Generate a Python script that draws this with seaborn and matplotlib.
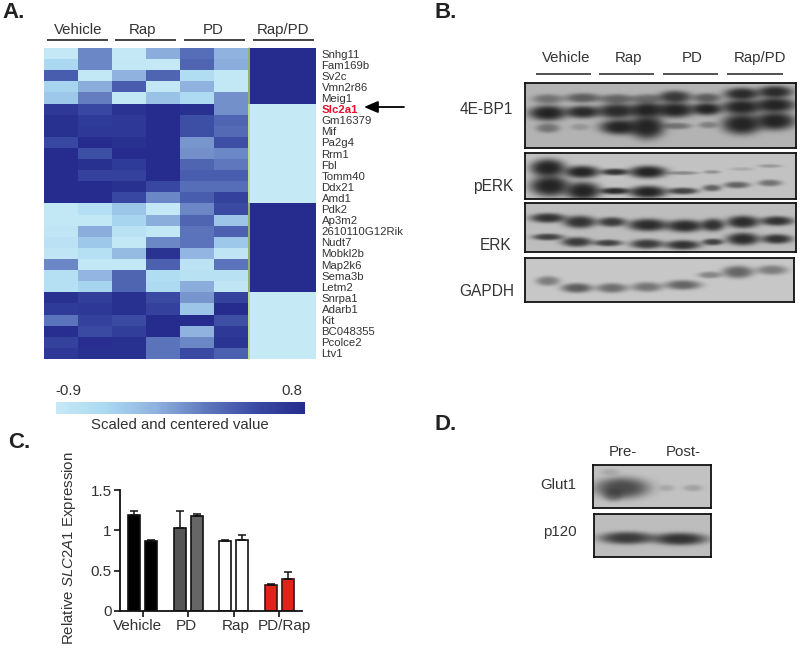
import numpy as np
import pandas as pd
import matplotlib
matplotlib.use("Agg")
import matplotlib.pyplot as plt
from matplotlib.colors import LinearSegmentedColormap
from matplotlib.transforms import ScaledTranslation
import seaborn as sns

# ---- panel A values (scaled and centered)
genes = ["Snhg11", "Fam169b", "Sv2c", "Vmn2r86", "Meig1", "Slc2a1", "Gm16379", "Mif", "Pa2g4", "Rrm1",
         "Fbl", "Tomm40", "Ddx21", "Amd1", "Pdk2", "Ap3m2", "2610110G12Rik", "Nudt7", "Mobkl2b", "Map2k6",
         "Sema3b", "Letm2", "Snrpa1", "Adarb1", "Kit", "BC048355", "Pcolce2", "Ltv1"]
vehicle_1 = [-0.87, -0.56, 0.32, -0.53, -0.42, 0.66, 0.75, 0.75, 0.49, 0.8, 0.8, 0.8, 0.8, 0.8,
             -0.85, -0.85, -0.83, -0.76, -0.83, 0.03, -0.7, -0.7, 0.75, 0.63, 0.15, 0.77, 0.55, 0.66]
vehicle_2 = [0.03, 0.03, -0.85, -0.19, 0.09, 0.49, 0.63, 0.66, 0.8, 0.43, 0.75, 0.55, 0.8, 0.8,
             -0.7, -0.85, -0.19, -0.42, -0.7, -0.85, -0.25, -0.53, 0.6, 0.66, 0.55, 0.46, 0.77, 0.75]
rap_1 = [-0.87, -0.85, -0.22, 0.32, -0.85, 0.72, 0.66, 0.66, 0.75, 0.8, 0.63, 0.55, 0.75, 0.49,
         -0.39, -0.53, -0.73, -0.85, -0.3, -0.85, 0.26, 0.26, 0.75, 0.75, 0.46, 0.6, 0.75, 0.75]
rap_2 = [-0.19, -0.87, 0.26, -0.85, -0.36, 0.8, 0.8, 0.8, 0.8, 0.8, 0.8, 0.8, 0.49, 0.03,
         -0.87, -0.19, -0.85, 0.03, 0.72, 0.29, -0.65, -0.59, 0.46, 0.55, 0.8, 0.8, 0.15, 0.15]
pd_1 = [0.2, 0.26, -0.65, -0.22, -0.61, 0.75, 0.43, 0.43, -0.05, -0.02, 0.26, 0.32, 0.2, 0.32,
        0.03, 0.26, 0.15, 0.15, -0.25, -0.78, -0.73, -0.19, -0.05, -0.39, 0.8, -0.22, 0.03, 0.46]
pd_2 = [-0.22, -0.19, -0.85, -0.85, -0.02, -0.02, 0.26, 0.22, 0.43, 0.03, 0.12, 0.32, 0.2, 0.55,
        0.46, -0.39, 0.29, -0.42, -0.81, 0.15, -0.73, -0.83, 0.55, 0.8, 0.43, 0.66, 0.71, 0.29]
rap_pd_1 = [0.8] * 5 + [-0.9] * 9 + [0.8] * 8 + [-0.9] * 6
rap_pd_2 = [0.8] * 5 + [-0.9] * 9 + [0.8] * 8 + [-0.9] * 6

# ---- panel C values
treatments = ["Vehicle", "PD", "Rap", "PD/Rap"]
expr_rep1 = [1.19, 1.03, 0.87, 0.32]
expr_rep2 = [0.87, 1.18, 0.88, 0.40]
err_rep1 = [0.05, 0.21, 0.01, 0.01]
err_rep2 = [0.01, 0.02, 0.06, 0.08]
colors_rep1 = ["#000000", "#555555", "#ffffff", "#e2231a"]
colors_rep2 = ["#000000", "#666666", "#ffffff", "#e2231a"]

# ---- blots: band centre x, centre y, half width, half height, darkness (all px of the picture)
bands_4ebp1 = [(548, 99, 13, 3, .45), (583, 98, 15, 3, .6), (617, 99, 15, 3, .55), (647, 99, 13, 3, .5),
               (675, 97, 14, 4, .85), (707, 98, 12, 3, .6), (742, 94, 15, 4, .95), (775, 92, 15, 4, .95),
               (548, 113, 16, 5, 1), (583, 112, 15, 4, .95), (617, 111, 17, 5, .95), (647, 110, 15, 5, 1),
               (675, 110, 17, 5, 1), (707, 109, 13, 4, 1), (742, 107, 17, 5, 1), (775, 105, 17, 5, 1),
               (548, 128, 10, 3, .45), (580, 127, 8, 2, .2), (620, 127, 17, 5, 1), (647, 127, 15, 8, 1),
               (677, 126, 12, 2, .45), (708, 125, 8, 2, .35), (742, 124, 17, 7, 1), (775, 121, 17, 6, 1)]
bands_perk = [(548, 168, 15, 6, 1), (582, 172, 15, 4, 1), (615, 172, 12, 2, .9), (648, 172, 16, 4, 1),
              (683, 173, 13, 1, .35), (712, 172, 7, 1, .3), (742, 169, 10, 1, .15), (770, 166, 10, 1, .25),
              (550, 186, 17, 7, 1), (583, 191, 15, 6, 1), (615, 191, 13, 2, .95), (648, 192, 16, 4, 1),
              (683, 191, 13, 2, .8), (712, 188, 8, 2, .6), (737, 185, 11, 2, .6), (770, 183, 10, 2, .5)]
bands_erk = [(548, 218, 15, 3, .9), (580, 222, 14, 4, .9), (612, 222, 12, 3, .85), (648, 225, 17, 4, .95),
             (685, 226, 16, 4, .95), (713, 225, 10, 4, .9), (743, 222, 14, 4, .95), (777, 221, 14, 3, .9),
             (548, 237, 13, 2, .8), (577, 242, 13, 3, .85), (608, 243, 12, 2, .8), (647, 244, 14, 3, .85),
             (683, 245, 15, 3, .9), (713, 242, 9, 2, .8), (743, 239, 14, 4, .95), (777, 239, 13, 3, .9)]
bands_gapdh = [(548, 281, 10, 3, .45), (577, 288, 13, 3, .65), (612, 288, 13, 3, .55), (647, 287, 13, 3, .5),
               (683, 285, 15, 3, .6), (710, 275, 10, 2, .4), (738, 272, 13, 4, .6), (772, 270, 13, 3, .45)]
bands_glut1 = [(622, 488, 23, 7, .75), (613, 495, 8, 4, .4), (667, 488, 7, 2, .15), (693, 488, 8, 2, .2),
               (610, 472, 8, 2, .15)]
bands_p120 = [(627, 538, 23, 4, .85), (680, 539, 23, 4, .9)]

sns.set_theme(style="white")
plt.rcParams["font.family"] = ["Liberation Sans", "DejaVu Sans"]
plt.rcParams["mathtext.fontset"] = "custom"
plt.rcParams["mathtext.it"] = "Liberation Sans:italic"
plt.rcParams["mathtext.rm"] = "Liberation Sans"

W, H = 800, 649
TXT = "#333333"
fig = plt.figure(figsize=(W / 100, H / 100), dpi=100, facecolor="white")


def px_axes(x0, y0, x1, y1):
    return fig.add_axes([x0 / W, 1 - y1 / H, (x1 - x0) / W, (y1 - y0) / H])


blue_map = LinearSegmentedColormap.from_list(
    "blues", ["#c6e9f6", "#a9d8f0", "#8fb2df", "#5f78bd", "#3a4aa3", "#252c8d"])

# panel A
heat = pd.DataFrame({"v1": vehicle_1, "v2": vehicle_2, "r1": rap_1, "r2": rap_2, "p1": pd_1, "p2": pd_2,
                     "rp1": rap_pd_1, "rp2": rap_pd_2}, index=genes)
ax_heat = px_axes(44, 48, 316, 359)
cax = px_axes(56, 402, 305, 414)
sns.heatmap(heat, ax=ax_heat, cmap=blue_map, vmin=-0.9, vmax=0.8, xticklabels=False, yticklabels=True,
            cbar_ax=cax, cbar_kws={"orientation": "horizontal", "ticks": []})
cax.tick_params(length=0)
for sp in cax.spines.values():
    sp.set_visible(False)
ax_heat.set_ylabel("")
ax_heat.yaxis.tick_right()
ax_heat.tick_params(axis="y", length=0, pad=4, labelrotation=0)
for lab in ax_heat.get_yticklabels():
    lab.set_fontsize(8.2)
    lab.set_color(TXT)
    if lab.get_text() == "Slc2a1":
        lab.set_color("#e8112d")
        lab.set_fontweight("bold")

# panel B / D blots
def draw_blot(bands, x0, y0, x1, y1, bg):
    xs, ys = np.meshgrid(np.arange(x0, x1) + 0.5, np.arange(y0, y1) + 0.5)
    keep = np.ones_like(xs)
    for bx, by, hw, hh, dark in bands:
        # bands looked too thin at their read size, so widen the soft edge a bit
        blob = np.exp(-(((xs - bx) / (hw * 1.2)) ** 2 + ((ys - by) / (hh * 1.45 + 0.5)) ** 2) ** 1.6)
        keep *= 1 - dark * blob
    img = 0.14 + (bg - 0.14) * keep
    ax = px_axes(x0, y0, x1, y1)
    sns.heatmap(img, ax=ax, cmap="gray", vmin=0, vmax=1, cbar=False, xticklabels=False, yticklabels=False)
    for sp in ax.spines.values():
        sp.set_visible(True)
        sp.set_color("#111111")
        sp.set_linewidth(1.3)


draw_blot(bands_4ebp1, 525, 83, 796, 148, 0.70)
draw_blot(bands_perk, 525, 153, 796, 199, 0.76)
draw_blot(bands_erk, 525, 203, 796, 252, 0.74)
draw_blot(bands_gapdh, 525, 258, 794, 302, 0.78)
draw_blot(bands_glut1, 593, 465, 711, 508, 0.76)
draw_blot(bands_p120, 594, 514, 711, 557, 0.74)

# panel C
bars = pd.DataFrame({"treatment": treatments * 2, "rep": ["a"] * 4 + ["b"] * 4, "expr": expr_rep1 + expr_rep2})
ax_bar = px_axes(120, 490, 302, 611)
sns.barplot(data=bars, x="treatment", y="expr", hue="rep", order=treatments, width=0.75, gap=0.3,
            legend=False, errorbar=None, ax=ax_bar)
for cont, cols, errs in zip(ax_bar.containers, [colors_rep1, colors_rep2], [err_rep1, err_rep2]):
    for patch, col, err in zip(cont, cols, errs):
        patch.set_facecolor(col)
        patch.set_edgecolor("#3a1414" if col == "#e2231a" else "#111111")
        patch.set_linewidth(1.2)
        mid = patch.get_x() + patch.get_width() / 2
        ax_bar.errorbar(mid, patch.get_height(), yerr=[[0], [err]], color="#111111", capsize=3, lw=1.1, capthick=1.1)
ax_bar.set_xlim(-0.5, 3.5)
ax_bar.set_ylim(0, 1.5)
ax_bar.set_yticks([0, 0.5, 1, 1.5], ["0", "0.5", "1", "1.5"])
ax_bar.set_xlabel("")
ax_bar.set_ylabel("")
ax_bar.tick_params(axis="both", length=4, width=1.2, color="#111111", labelsize=11, labelcolor=TXT, pad=2,
                   bottom=True, left=True)
# the treatment names sit a little off their ticks in the original
for lab, dx in zip(ax_bar.get_xticklabels(), [-5, -2, 2, 5]):
    lab.set_transform(lab.get_transform() + ScaledTranslation(dx / 100, 0, fig.dpi_scale_trans))
sns.despine(ax=ax_bar)
for side in ["left", "bottom"]:
    ax_bar.spines[side].set_color("#111111")
    ax_bar.spines[side].set_linewidth(1.3)

# overlay in picture pixels for labels and rules
ov = fig.add_axes([0, 0, 1, 1], zorder=10)
ov.set_xlim(0, W)
ov.set_ylim(H, 0)
ov.axis("off")


def label(x, y, s, ha="center", size=10.8, **kw):
    kw.setdefault("color", TXT)
    ov.text(x, y, s, ha=ha, va="center", fontsize=size, **kw)


for x, s in zip([2, 435, 8, 435], ["A.", "B.", "C.", "D."]):
    y = {"A.": 12, "B.": 12, "C.": 442, "D.": 425}[s]
    label(x, y, s, ha="left", size=16, fontweight="bold", color="#222222")

for xc, s, a, b in zip([78, 143, 213, 283], ["Vehicle", "Rap", "PD", "Rap/PD"], [47, 115, 184, 253], [108, 176, 245, 314]):
    label(xc, 30, s)
    ov.plot([a, b], [40, 40], color="#222222", lw=1.2, solid_capstyle="butt")
ov.plot([248.5, 248.5], [48, 359], color="#b9dc6c", lw=1.1)
ov.annotate("", xy=(364, 107), xytext=(404, 107),
            arrowprops=dict(arrowstyle="-|>,head_length=0.7,head_width=0.3", color="black", lw=1.3,
                            shrinkA=0, shrinkB=0))
label(68, 391, "-0.9")
label(292, 391, "0.8")
label(180, 425, "Scaled and centered value")
label(69, 548, r"Relative $\mathit{SLC2A1}$ Expression", rotation=90)

for xc, s, a, b in zip([566, 629, 692, 760], ["Vehicle", "Rap", "PD", "Rap/PD"], [536, 599, 663, 727], [591, 654, 718, 783]):
    label(xc, 58, s)
    ov.plot([a, b], [74, 74], color="#333333", lw=1.2, solid_capstyle="butt")
for xr, y, s in zip([513, 513, 511, 514], [109, 187, 245, 291], ["4E-BP1", "pERK", "ERK", "GAPDH"]):
    label(xr, y, s, ha="right", size=11.2)
label(623, 452, "Pre-")
label(683, 452, "Post-")
label(576, 485, "Glut1", ha="right")
label(577, 532, "p120", ha="right")

fig.savefig("out.png", dpi=100, facecolor="white")
